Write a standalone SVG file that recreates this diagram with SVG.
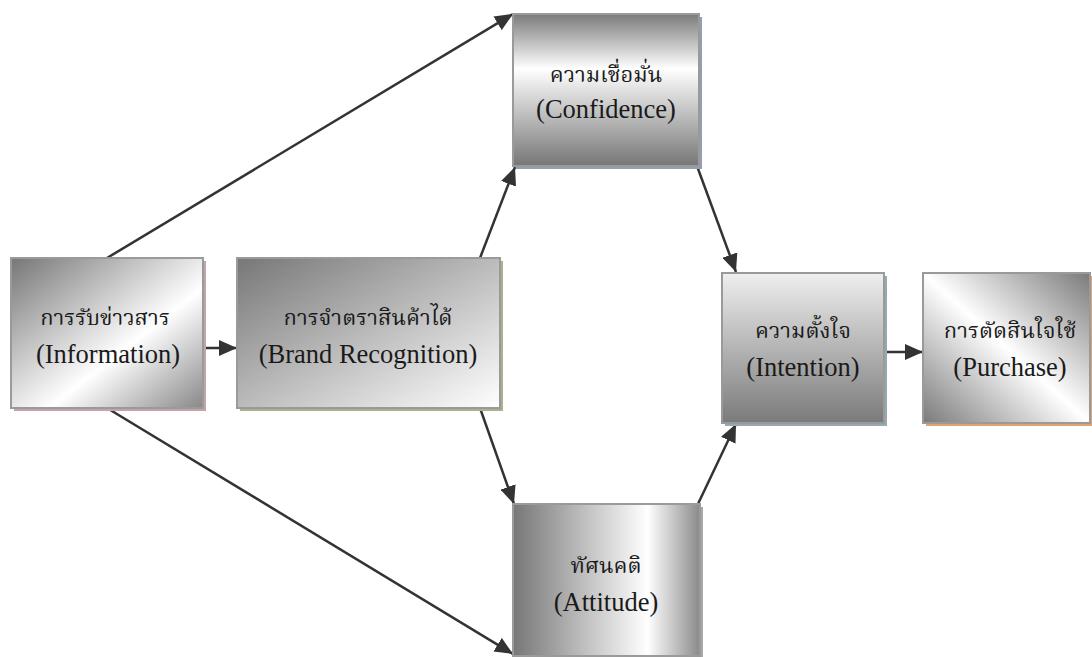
<svg xmlns="http://www.w3.org/2000/svg" width="1092" height="657" viewBox="0 0 1092 657">
  <defs>
    <linearGradient id="gInfo" x1="0" y1="0" x2="1" y2="1">
      <stop offset="0" stop-color="#767676"/>
      <stop offset="0.6" stop-color="#ffffff"/>
      <stop offset="1" stop-color="#888888"/>
    </linearGradient>
    <linearGradient id="gBrand" x1="0" y1="0" x2="1" y2="1">
      <stop offset="0" stop-color="#777777"/>
      <stop offset="1" stop-color="#ffffff"/>
    </linearGradient>
    <linearGradient id="gConf" x1="0" y1="0" x2="0" y2="1">
      <stop offset="0" stop-color="#7a7a7a"/>
      <stop offset="0.36" stop-color="#ffffff"/>
      <stop offset="1" stop-color="#767676"/>
    </linearGradient>
    <linearGradient id="gAtt" x1="0" y1="0" x2="1" y2="0">
      <stop offset="0" stop-color="#777777"/>
      <stop offset="0.72" stop-color="#ffffff"/>
      <stop offset="1" stop-color="#8a8a8a"/>
    </linearGradient>
    <linearGradient id="gInt" x1="0" y1="0" x2="0" y2="1">
      <stop offset="0" stop-color="#efefef"/>
      <stop offset="1" stop-color="#7a7a7a"/>
    </linearGradient>
    <linearGradient id="gPur" x1="1" y1="0" x2="0" y2="1">
      <stop offset="0" stop-color="#7a7a7a"/>
      <stop offset="0.5" stop-color="#ffffff"/>
      <stop offset="1" stop-color="#7a7a7a"/>
    </linearGradient>
    <marker id="arrow" markerUnits="userSpaceOnUse" markerWidth="18" markerHeight="16" viewBox="0 0 18 16" refX="18" refY="8" orient="auto">
      <path d="M0,0 L18,8 L0,16 Z" fill="#333333"/>
    </marker>
  </defs>
  <style>
    .lbl { font-family: "Liberation Serif", "Times New Roman", serif; font-size: 26.5px; fill: #1a1a1a; text-anchor: middle; }
    .th { font-family: "Kinnari", "Norasi", "Noto Serif Thai", "Liberation Serif", "Noto Sans Thai", serif; font-size: 22px; fill: #1a1a1a; text-anchor: middle; }
    .box { stroke: #9a9a9a; stroke-width: 2; }
    .conn line { stroke: #333333; stroke-width: 2.5; marker-end: url(#arrow); }
  </style>
  <rect width="1092" height="657" fill="#ffffff"/>

  <g id="connectors" class="conn">
    <line x1="107" y1="258" x2="513" y2="14"/>
    <line x1="107" y1="408" x2="513" y2="654"/>
    <line x1="203" y1="348" x2="237" y2="348"/>
    <line x1="480" y1="258" x2="515" y2="167"/>
    <line x1="480" y1="408" x2="514" y2="504"/>
    <line x1="697" y1="166" x2="736" y2="272"/>
    <line x1="697" y1="506" x2="736" y2="424"/>
    <line x1="884" y1="352" x2="923" y2="352"/>
  </g>

  <g id="information">
    <rect x="14" y="261" width="192" height="150" fill="#c4a4a6"/>
    <rect class="box" x="11" y="258" width="192" height="150" fill="url(#gInfo)"/>
    <text class="th" x="105" y="325">การรับข่าวสาร</text>
    <text class="lbl" x="108" y="363">(Information)</text>
  </g>

  <g id="brand-recognition">
    <rect x="240" y="261" width="263" height="150" fill="#a9b28e"/>
    <rect class="box" x="237" y="258" width="263" height="150" fill="url(#gBrand)"/>
    <text class="th" x="368" y="325">การจำตราสินค้าได้</text>
    <text class="lbl" x="368" y="363">(Brand Recognition)</text>
  </g>

  <g id="confidence">
    <rect x="516" y="17" width="186" height="152" fill="#8fa0b4"/>
    <rect class="box" x="513" y="14" width="186" height="152" fill="url(#gConf)"/>
    <text class="th" x="606" y="82">ความเชื่อมั่น</text>
    <text class="lbl" x="606" y="118">(Confidence)</text>
  </g>

  <g id="attitude">
    <rect x="516" y="507" width="187" height="152" fill="#a8a8a8"/>
    <rect class="box" x="513" y="504" width="187" height="152" fill="url(#gAtt)"/>
    <text class="th" x="606" y="573">ทัศนคติ</text>
    <text class="lbl" x="606" y="611">(Attitude)</text>
  </g>

  <g id="intention">
    <rect x="725" y="276" width="162" height="150" fill="#93aab2"/>
    <rect class="box" x="722" y="273" width="162" height="150" fill="url(#gInt)"/>
    <text class="th" x="803" y="338">ความตั้งใจ</text>
    <text class="lbl" x="803" y="376">(Intention)</text>
  </g>

  <g id="purchase">
    <rect x="926" y="276" width="170" height="150" fill="#e0a375"/>
    <rect class="box" x="923" y="273" width="167" height="150" fill="url(#gPur)"/>
    <text class="th" x="1010" y="338">การตัดสินใจใช้</text>
    <text class="lbl" x="1010" y="376">(Purchase)</text>
  </g>
</svg>
